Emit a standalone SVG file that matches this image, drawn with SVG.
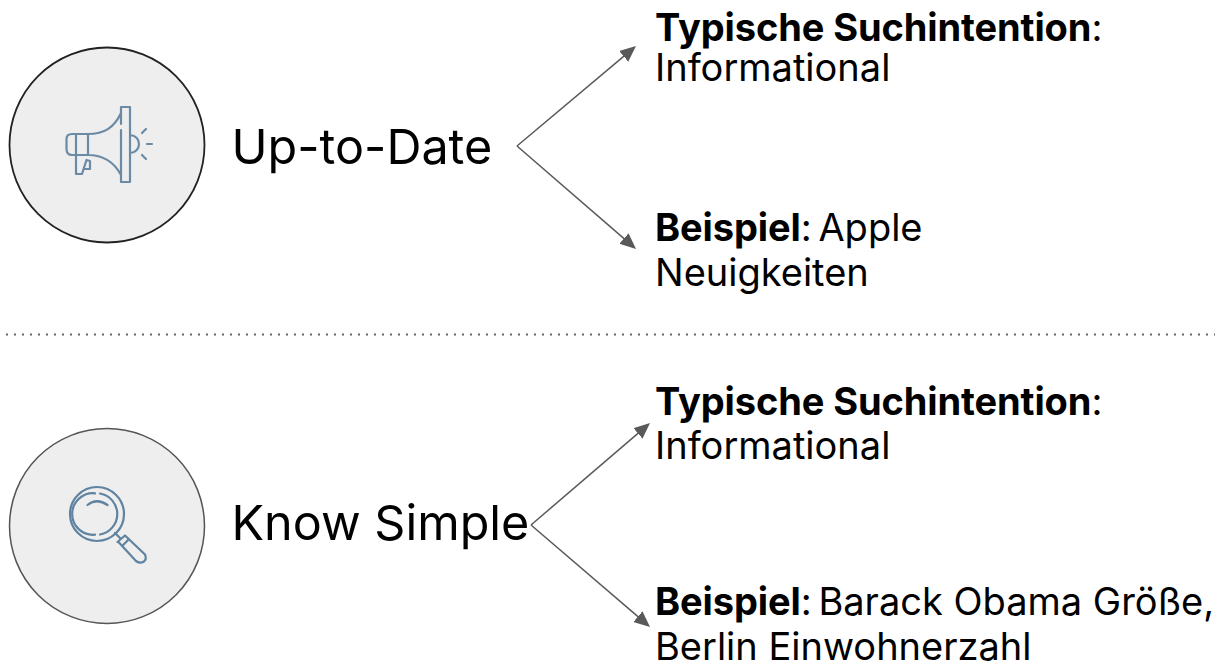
<svg xmlns="http://www.w3.org/2000/svg" width="1215" height="664" viewBox="0 0 1215 664">
<style>
text{font-family:"Inter","Liberation Sans",sans-serif;fill:#000}
.h{font-size:48.500px}
.t{font-size:38px}
.b{font-weight:700;letter-spacing:-.1px}
.s{word-spacing:-4px}
.c{fill:#eee}
.i{fill:none;stroke:#6b8aa5;stroke-width:2.200;stroke-linecap:round;stroke-linejoin:round}
.l{fill:none;stroke:#595959;stroke-width:1.500;marker-end:url(#a)}
</style>
<defs><marker id="a" markerUnits="userSpaceOnUse" markerWidth="20" markerHeight="20" refX="12" refY="7" orient="auto"><path d="M0 0L16 7L0 14z" fill="#595959"/></marker></defs>
<rect width="1215" height="664" fill="#fff"/>
<g id="connectors">
<path class="l" d="M517 146L632.900 48.600"/>
<path class="l" d="M517 146L633 246.400"/>
<path class="l" d="M531 525L647 425.600"/>
<path class="l" d="M531 525L647 624.400"/>
<path d="M0 334.500H1215" fill="none" stroke="#666" stroke-width="2" stroke-dasharray="2 6" stroke-dashoffset="2"/>
</g>
<g id="node-uptodate">
<circle class="c" cx="107" cy="145" r="97.500" stroke="#222" stroke-width="1.800"/>
<path class="i" d="M88 134H72Q66.500 134 66.500 139V149Q66.500 155 72 155H88M76 134V174H82L86.500 160M88 134V155M88 134C104 134 114 128 121 113M88 155C104 155 114 162 121 175M121 124V107H130V182H121V130M130 135C142 136 142 152 130 153M142 133L146 129M147 144H152M142 155L146 159M84 169H90V161L86.500 160"/>
<text class="h" x="231.500" y="164">Up-to-Date</text>
<text class="t" x="655" y="41"><tspan class="b">Typische Suchintention</tspan><tspan>:</tspan></text>
<text class="t" x="655" y="81">Informational</text>
<text class="t" x="655" y="241"><tspan class="b">Beispiel</tspan><tspan class="s">: </tspan><tspan>Apple</tspan></text>
<text class="t" x="655" y="286">Neuigkeiten</text>
</g>
<g id="node-knowsimple">
<circle class="c" cx="107" cy="526" r="97.500" stroke="#555" stroke-width="1.500"/>
<g class="i" style="stroke:#5f83a0">
<circle cx="97" cy="514" r="27"/>
<path d="M95 493.300A20.800 20.800 0 1 0 95 534.700M100 534.500A20.800 20.800 0 0 0 100 493.500M87.500 505Q97 497.500 107.500 505"/>
<path d="M115 533L121 539M117.500 542L125 535.500L145 554.500Q147 559 144 561.500Q140 564 136 561L118 541.500M122.700 545.500L129 539"/>
</g>
<text class="h" x="231.500" y="540">Know Simple</text>
<text class="t" x="655" y="415"><tspan class="b">Typische Suchintention</tspan><tspan>:</tspan></text>
<text class="t" x="655" y="459">Informational</text>
<text class="t" x="655" y="615"><tspan class="b">Beispiel</tspan><tspan class="s">: </tspan><tspan>Barack Obama Größe,</tspan></text>
<text class="t" x="655" y="660">Berlin Einwohnerzahl</text>
</g>
</svg>
